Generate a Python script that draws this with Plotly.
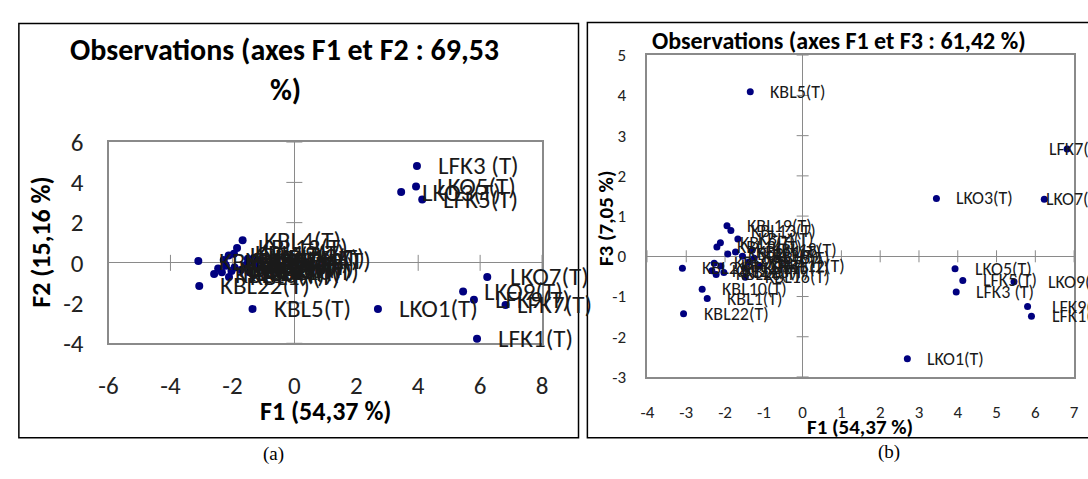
import plotly.graph_objects as go

# ---------------- data ----------------
names = [
    "LFK1(T)", "LFK3 (T)", "LFK5(T)", "LFK7(T)", "LFK9(T)",
    "LKO1(T)", "LKO3(T)", "LKO5(T)", "LKO7(T)", "LKO9(T)",
    "KBL1(T)", "KBL2(T)", "KBL3(T)", "KBL4(T)", "KBL5(T)", "KBL6(T)",
    "KBL7(T)", "KBL8(T)", "KBL9(T)", "KBL10(T)", "KBL11(T)", "KBL12(T)",
    "KBL13(T)", "KBL14(T)", "KBL15(T)", "KBL16(T)", "KBL17(T)", "KBL18(T)",
    "KBL19(T)", "KBL20(T)", "KBL21(T)", "KBL22(T)", "KBL23(T)", "KBL24(T)",
]
F1 = [5.90, 3.96, 4.13, 6.82, 5.80,
      2.70, 3.45, 3.93, 6.23, 5.45,
      -2.46, -1.93, -1.55, -1.67, -1.35, -2.12,
      -1.40, -1.25, -2.28, -2.59, -1.73, -1.10,
      -1.85, -2.21, -1.50, -1.48, -2.11, -1.30,
      -1.95, -2.23, -3.10, -3.07, -2.03, -2.34]
F2 = [-3.77, 4.82, 3.15, -2.09, -1.83,
      -2.29, 3.52, 3.80, -0.70, -1.43,
      -0.28, -0.23, -0.10, 1.12, -2.29, 0.37,
      0.05, -0.20, 0.14, -0.56, -0.35, 0.10,
      0.74, -0.15, 0.20, -0.45, -0.70, 0.25,
      0.45, -0.10, 0.09, -1.15, -0.40, -0.47]
F3 = [-1.49, -0.89, -0.60, 2.67, -1.25,
      -2.55, 1.44, -0.31, 1.42, -0.63,
      -1.05, 0.06, 0.00, 0.43, 4.09, 0.34,
      -0.15, -0.05, -0.17, -0.82, 0.11, -0.25,
      0.64, 0.23, -0.30, -0.52, -0.24, 0.15,
      0.76, -0.45, -0.30, -1.43, -0.40, -0.36]

titleA = ["Observations (axes F1 et F2 : 69,53", "%)"]
titleB = "Observations (axes F1 et F3 : 61,42 %)"
xtitle = "F1 (54,37 %)"
ytitleA = "F2 (15,16 %)"
ytitleB = "F3 (7,05 %)"
ticksA_x = [-6, -4, -2, 0, 2, 4, 6, 8]
ticksA_y = [-4, -2, 0, 2, 4, 6]
ticksB_x = [-4, -3, -2, -1, 0, 1, 2, 3, 4, 5, 6, 7]
ticksB_y = [-3, -2, -1, 0, 1, 2, 3, 4, 5]

# ---------------- style ----------------
W, H = 1088, 479
FONT = "Carlito, Calibri, Lato, sans-serif"
SERIF = "Liberation Serif, Times New Roman, serif"
NAVY = "#00007f"
GRAY = "#8a8a8a"
TXT = "#1a1a1a"

# label pixel offset from point to label start (Excel repositioned some labels)
OFF_A = 20
OFF_B = 19
SHIFT_A = {"LKO7(T)": 2, "LFK7(T)": -10}
SHIFT_B = {"LFK7(T)": -38, "LKO7(T)": -18, "LKO9(T)": 14, "LFK9(T)": 4, "LFK1(T)": 1}

def px(x):
    return x / W

def py(y):
    return 1 - y / H

domA_x = [px(100), px(540)]
domA_y = [py(351), py(136)]
domB_x = [px(647), px(1080)]
domB_y = [py(387), py(43)]

fig = go.Figure()
fig.add_trace(go.Scatter(x=F1, y=F2, mode="markers", xaxis="x", yaxis="y",
                         marker=dict(color=NAVY, size=8), hoverinfo="skip",
                         cliponaxis=False, showlegend=False))
fig.add_trace(go.Scatter(x=F1, y=F3, mode="markers", xaxis="x2", yaxis="y2",
                         marker=dict(color=NAVY, size=7), hoverinfo="skip",
                         cliponaxis=False, showlegend=False))

ann = []
for n, a, b, c in zip(names, F1, F2, F3):
    ann.append(dict(x=a, y=b, xref="x", yref="y", text=n, showarrow=False,
                    xanchor="left", yanchor="middle", borderpad=0,
                    xshift=OFF_A + SHIFT_A.get(n, 0),
                    font=dict(family=FONT, size=25, color=TXT)))
    ann.append(dict(x=a, y=c, xref="x2", yref="y2", text=n, showarrow=False,
                    xanchor="left", yanchor="middle", borderpad=0,
                    xshift=OFF_B + SHIFT_B.get(n, 0),
                    font=dict(family=FONT, size=18, color=TXT)))

def txt(x, y, s, size, bold=True, angle=0, family=FONT):
    return dict(x=px(x), y=py(y), xref="paper", yref="paper", text=(f"<b>{s}</b>" if bold else s),
                showarrow=False, xanchor="center", yanchor="middle", textangle=angle,
                font=dict(family=family, size=size, color="#000000"))

ann += [
    txt(279, 37, titleA[0], 30),
    txt(280, 80, titleA[1], 30),
    txt(841, 27, titleB, 24),
    txt(320, 423, xtitle, 26),
    txt(32, 243, ytitleA, 26, angle=-90),
    txt(863, 440, xtitle, 21),
    txt(605, 217, ytitleB, 21, angle=-90),
    txt(267, 469, "(a)", 19, bold=False, family=SERIF),
    txt(892, 467, "(b)", 19, bold=False, family=SERIF),
]

shapes = []
# outer boxes
shapes.append(dict(type="rect", xref="paper", yref="paper", x0=px(9), x1=px(577), y0=py(452), y1=py(9),
                   line=dict(color="#000000", width=1.5), layer="below"))
shapes.append(dict(type="rect", xref="paper", yref="paper", x0=px(586), x1=px(1100), y0=py(452), y1=py(8),
                   line=dict(color="#000000", width=1.5), layer="below"))

# cross tick marks on the zero axes
def crosses(xr, yr, tx, ty, half):
    out = []
    for v in ty:
        if v == 0:
            continue
        out.append(dict(type="line", xref=xr, yref=yr, xsizemode="pixel", xanchor=0,
                        x0=-half, x1=half, y0=v, y1=v, line=dict(color=GRAY, width=1), layer="below"))
    for v in tx:
        if v == 0:
            continue
        out.append(dict(type="line", xref=xr, yref=yr, ysizemode="pixel", yanchor=0,
                        y0=-half, y1=half, x0=v, x1=v, line=dict(color=GRAY, width=1), layer="below"))
    return out

shapes += crosses("x", "y", ticksA_x, ticksA_y, 8)
shapes += crosses("x2", "y2", ticksB_x, ticksB_y, 6)

def axis(dom, rng, ticks, size, anchor, standoff):
    return dict(domain=dom, range=rng, tickvals=ticks, ticktext=[str(t) for t in ticks],
                showgrid=False, zeroline=True, zerolinecolor=GRAY, zerolinewidth=1,
                showline=True, mirror=True, linecolor=GRAY, linewidth=2,
                ticks="", anchor=anchor, ticklabelstandoff=standoff,
                tickfont=dict(family=FONT, size=size, color="#222222"), fixedrange=True)

fig.update_layout(
    width=W, height=H, margin=dict(l=0, r=0, t=0, b=0),
    paper_bgcolor="white", plot_bgcolor="white",
    xaxis=axis(domA_x, [-6, 8], ticksA_x, 25, "y", 19),
    yaxis=axis(domA_y, [-4, 6], ticksA_y, 25, "x", 18),
    xaxis2=axis(domB_x, [-4, 7], ticksB_x, 17, "y2", 19),
    yaxis2=axis(domB_y, [-3, 5], ticksB_y, 17, "x2", 16),
    annotations=ann, shapes=shapes, showlegend=False,
)

fig.write_html("out.html")
